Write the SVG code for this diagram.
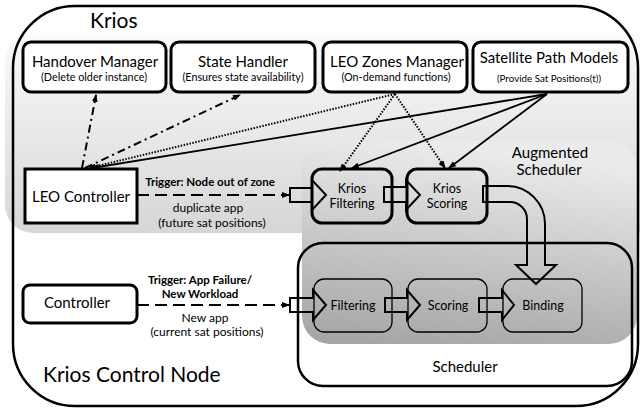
<svg xmlns="http://www.w3.org/2000/svg" width="640" height="409" viewBox="0 0 640 409">
<defs>
<linearGradient id="kriosGrad" x1="0" y1="0" x2="0" y2="1">
<stop offset="0" stop-color="#fbfbfb"/>
<stop offset="1" stop-color="#d6d6d6"/>
</linearGradient>
<linearGradient id="augGrad" x1="0.3" y1="0" x2="0.1" y2="1">
<stop offset="0" stop-color="#ebebeb"/>
<stop offset="1" stop-color="#a4a4a4"/>
</linearGradient>
<marker id="ah" markerWidth="8" markerHeight="6" refX="7" refY="3" orient="auto" markerUnits="userSpaceOnUse">
<path d="M0,0 L8,3 L0,6 Z" fill="#000"/>
</marker>
<style>
text{font-family:Lato,"Open Sans","Liberation Sans",sans-serif;fill:#000;text-anchor:middle}
.title{font-size:15px}
.sub{font-size:10.8px}
.big{font-size:21px;text-anchor:start}
.lbl{font-size:12px}
.nlbl{font-size:12.5px}
.bold{font-size:11.5px;font-weight:bold}
.box{fill:#fff;stroke:#000;stroke-width:3}
.pbox{fill:none;stroke:#000;stroke-width:3}
.tbox{fill:none;stroke:#000;stroke-width:1.3}
.blk{fill:none;stroke:#000;stroke-width:2}
.dashdot{fill:none;stroke:#000;stroke-width:2;stroke-dasharray:8 4 2 4}
.dot{fill:none;stroke:#000;stroke-width:2;stroke-dasharray:1.5 1.5}
.solid{fill:none;stroke:#000;stroke-width:1.8}
.dash{fill:none;stroke:#000;stroke-width:2;stroke-dasharray:12 6}
</style>
</defs>
<rect width="640" height="409" fill="#fff"/>
<g id="krios-control-node">
<rect x="13" y="6" width="625" height="400" rx="62" ry="62" fill="#fff"/>
<rect x="5" y="33" width="700" height="200" rx="28" ry="28" fill="url(#kriosGrad)"/>
<rect x="298" y="243" width="334" height="143" rx="25" ry="25" fill="#fff"/>
<rect x="302" y="141" width="335" height="203" rx="28" ry="28" fill="url(#augGrad)"/>
<rect x="13" y="6" width="625" height="400" rx="62" ry="62" fill="none" stroke="#000" stroke-width="2.5"/>
<text class="big" x="43" y="382">Krios Control Node</text>
<text class="big" x="90" y="28">Krios</text>
</g>
<g id="scheduler">
<rect x="298" y="243" width="334" height="143" rx="25" ry="25" fill="none" stroke="#000" stroke-width="2.5"/>
<text class="title" x="465" y="372">Scheduler</text>
</g>
<g id="augmented-scheduler">
<text class="title" x="550" y="158">Augmented</text>
<text class="title" x="549" y="175">Scheduler</text>
</g>
<g id="handover-manager">
<rect class="box" x="23" y="42" width="143" height="50" rx="8"/>
<text class="title" x="95" y="67">Handover Manager</text>
<text class="sub" x="94" y="81">(Delete older instance)</text>
</g>
<g id="state-handler">
<rect class="box" x="171" y="42" width="144" height="50" rx="8"/>
<text class="title" x="243" y="67">State Handler</text>
<text class="sub" x="243" y="81">(Ensures state availability)</text>
</g>
<g id="leo-zones-manager">
<rect class="box" x="323" y="42" width="144" height="50" rx="8"/>
<text class="title" x="397" y="67">LEO Zones Manager</text>
<text class="sub" x="396" y="81">(On-demand functions)</text>
</g>
<g id="satellite-path-models">
<rect class="box" x="473" y="42" width="155" height="50" rx="8"/>
<text class="title" x="549" y="63">Satellite Path Models</text>
<text class="sub" x="549" y="82" style="font-size:9.8px">(Provide Sat Positions(t))</text>
</g>
<g id="leo-controller">
<rect class="box" x="25" y="169" width="112" height="54"/>
<text class="title" x="81" y="202">LEO Controller</text>
</g>
<g id="controller">
<rect class="box" x="23" y="285" width="114" height="38" rx="7"/>
<text class="title" x="77" y="308">Controller</text>
</g>
<g id="krios-filtering">
<rect class="pbox" x="312" y="169" width="80" height="54" rx="10"/>
<text class="nlbl" x="352" y="193">Krios</text>
<text class="nlbl" x="352" y="208">Filtering</text>
</g>
<g id="krios-scoring">
<rect class="pbox" x="407" y="169" width="80" height="54" rx="10"/>
<text class="nlbl" x="447" y="193">Krios</text>
<text class="nlbl" x="447" y="208">Scoring</text>
</g>
<g id="filtering">
<rect class="tbox" x="314" y="279" width="78" height="53" rx="10"/>
<text class="nlbl" x="353" y="310">Filtering</text>
</g>
<g id="scoring">
<rect class="tbox" x="408" y="279" width="79" height="53" rx="10"/>
<text class="nlbl" x="448" y="310">Scoring</text>
</g>
<g id="binding">
<rect class="tbox" x="503" y="279" width="79" height="53" rx="10"/>
<text class="nlbl" x="543" y="310">Binding</text>
</g>
<g id="connectors">
<path class="dashdot" d="M82,168 L96,95" marker-end="url(#ah)"/>
<path class="dashdot" d="M85,168 L240,95" marker-end="url(#ah)"/>
<path class="dot" d="M395,94 L89,168" marker-end="url(#ah)"/>
<path class="solid" d="M547,94 L92,168" marker-end="url(#ah)"/>
<path class="dot" d="M395,94 L340,171" marker-end="url(#ah)"/>
<path class="dot" d="M395,94 L445,168" marker-end="url(#ah)"/>
<path class="solid" d="M547,94 L352,168" marker-end="url(#ah)"/>
<path class="solid" d="M547,94 L449,168" marker-end="url(#ah)"/>
<path class="dash" d="M137,195 L289,195" marker-end="url(#ah)"/>
<path class="dash" d="M137,305 L289,305" marker-end="url(#ah)"/>
<path class="blk" d="M290,188 L312,188 L312,180 L326,195 L312,210 L312,202 L290,202 Z"/>
<path class="blk" d="M384,187 L406,187 L406,180 L420,195 L406,210 L406,202 L384,202 Z"/>
<path class="blk" d="M290,298 L313,298 L313,290 L326,305 L313,320 L313,312 L290,312 Z"/>
<path class="blk" d="M385,298 L407,298 L407,290 L420,305 L407,320 L407,312 L385,312 Z"/>
<path class="blk" d="M479,298 L502,298 L502,290 L514,305 L502,320 L502,312 L479,312 Z"/>
<path class="blk" d="M483,186 L507,186 A38,38 0 0 1 545,224 L545,265 L556,265 L536,284 L516,265 L527,265 L527,219 A17,17 0 0 0 510,202 L483,202 Z"/>
<text class="bold" x="210" y="186">Trigger: Node out of zone</text>
<text class="lbl" x="208" y="212">duplicate app</text>
<text class="lbl" x="212" y="227">(future sat positions)</text>
<text class="bold" x="200" y="284">Trigger: App Failure/</text>
<text class="bold" x="200" y="298">New Workload</text>
<text class="lbl" x="205" y="322">New app</text>
<text class="lbl" x="207" y="336">(current sat positions)</text>
</g>
</svg>
